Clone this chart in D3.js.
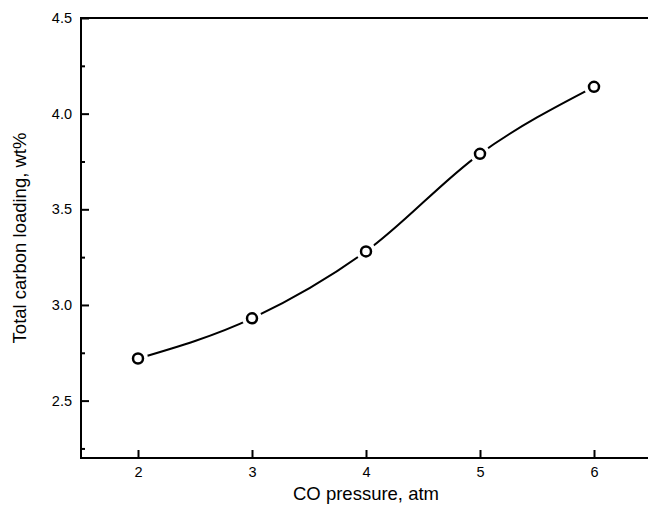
<!DOCTYPE html>
<html>
<head>
<meta charset="utf-8">
<script src="https://cdn.jsdelivr.net/npm/d3@7"></script>
<style>
  body { margin: 0; background: #fff; }
  text { font-family: "Liberation Sans", Arial, sans-serif; fill: #000; }
  .tick text { font-size: 14.5px; }
</style>
</head>
<body>
<div id="chart"></div>
<script>
const pressure = [2, 3, 4, 5, 6];
const carbon = [2.72, 2.93, 3.28, 3.79, 4.14];
const xTicks = [2, 3, 4, 5, 6];
const yTicks = [2.5, 3.0, 3.5, 4.0, 4.5];
const yMinor = [2.25, 2.75, 3.25, 3.75, 4.25];

const W = 648, H = 505;
const margin = { top: 18, right: -3, bottom: 47, left: 81 };
const width = W - margin.left - margin.right;
const height = H - margin.top - margin.bottom;

const svg = d3.select("#chart").append("svg")
    .attr("width", W)
    .attr("height", H);

const g = svg.append("g")
    .attr("transform", "translate(" + margin.left + "," + margin.top + ")");

const x = d3.scaleLinear().domain([1.5, 6.5]).range([0, width]);
const y = d3.scaleLinear().domain([2.2, 4.5]).range([height, 0]);

// frame (right side runs past the picture edge)
g.append("rect")
    .attr("width", width)
    .attr("height", height)
    .attr("fill", "none")
    .attr("stroke", "#000")
    .attr("stroke-width", 2);

// x axis, ticks pointing inward
const xAxis = g.append("g")
    .attr("transform", "translate(0," + height + ")")
    .call(d3.axisBottom(x).tickValues(xTicks).tickSize(-8).tickPadding(9).tickFormat(d3.format("d")))
    .attr("font-size", null)
    .attr("font-family", null);
xAxis.select(".domain").remove();
xAxis.selectAll("line").attr("stroke-width", 2);

// y axis
const yAxis = g.append("g")
    .call(d3.axisLeft(y).tickValues(yTicks).tickSize(-8).tickPadding(9).tickFormat(d3.format(".1f")))
    .attr("font-size", null)
    .attr("font-family", null);
yAxis.select(".domain").remove();
yAxis.selectAll("line").attr("stroke-width", 2);

g.append("g")
    .call(d3.axisLeft(y).tickValues(yMinor).tickSize(-4).tickFormat(""))
    .call(a => a.select(".domain").remove())
    .selectAll("line").attr("stroke-width", 2);

// axis titles
svg.append("text")
    .attr("x", margin.left + x(4))
    .attr("y", 500)
    .attr("text-anchor", "middle")
    .style("font-size", "18.5px")
    .text("CO pressure, atm");

svg.append("text")
    .attr("transform", "translate(26," + (margin.top + height / 2) + ") rotate(-90)")
    .attr("text-anchor", "middle")
    .style("font-size", "18.5px")
    .text("Total carbon loading, wt%");

const pts = pressure.map((p, i) => ({ p, c: carbon[i] }));

const line = d3.line()
    .x(d => x(d.p))
    .y(d => y(d.c))
    .curve(d3.curveMonotoneX);

g.append("path")
    .datum(pts)
    .attr("d", line)
    .attr("fill", "none")
    .attr("stroke", "#000")
    .attr("stroke-width", 2);

// white gap round the markers
g.selectAll(".gap")
    .data(pts)
    .enter()
    .append("circle")
    .attr("class", "gap")
    .attr("cx", d => x(d.p))
    .attr("cy", d => y(d.c))
    .attr("r", 10)
    .attr("fill", "#fff");

g.selectAll(".pt")
    .data(pts)
    .enter()
    .append("circle")
    .attr("class", "pt")
    .attr("cx", d => x(d.p))
    .attr("cy", d => y(d.c))
    .attr("r", 5)
    .attr("fill", "#fff")
    .attr("stroke", "#000")
    .attr("stroke-width", 2.5);
</script>
</body>
</html>
